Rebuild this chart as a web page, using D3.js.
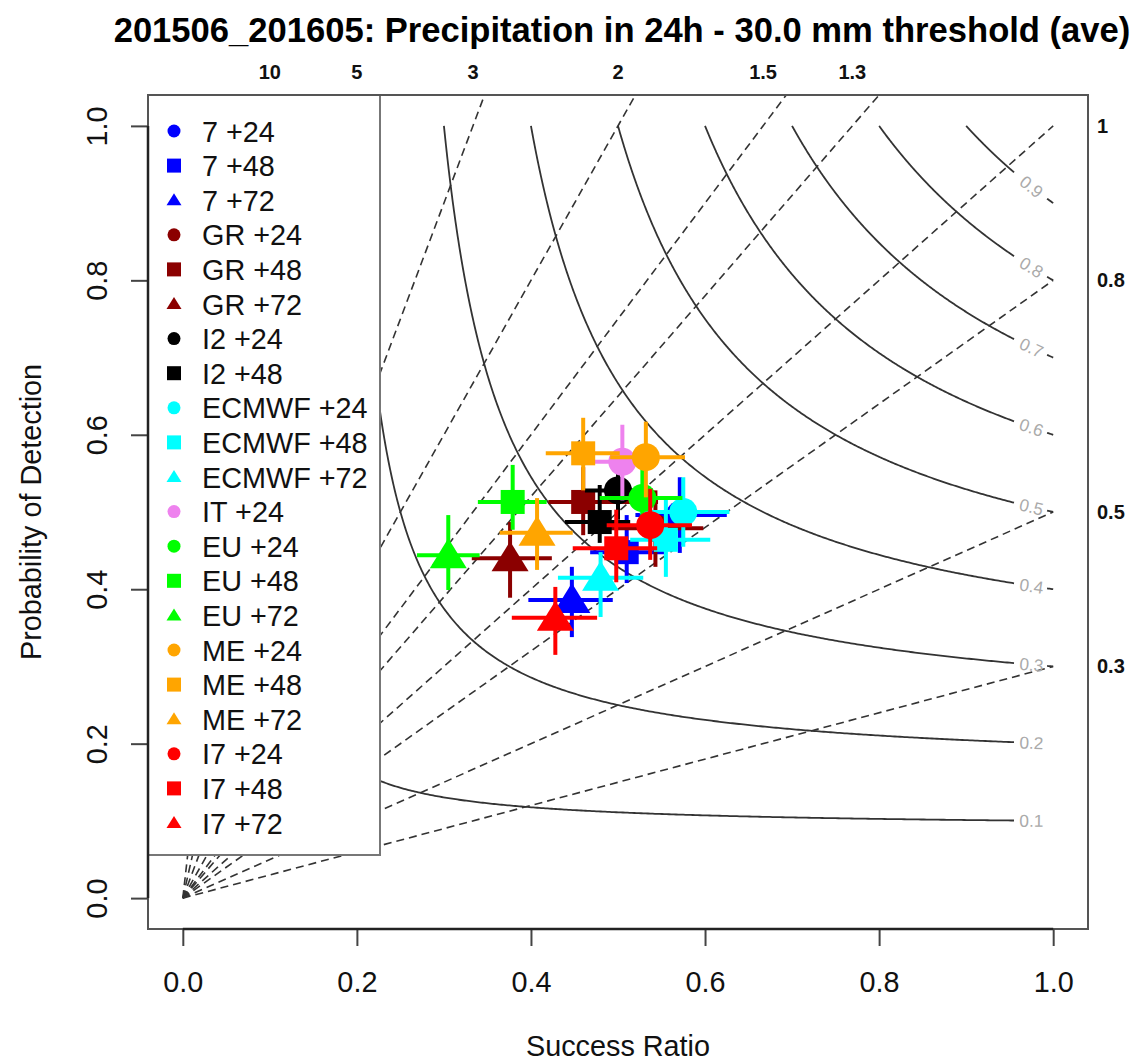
<!DOCTYPE html>
<html>
<head>
<meta charset="utf-8">
<script src="https://cdn.jsdelivr.net/npm/d3@7"></script>
<style>
  body { margin: 0; background: #fff; }
  svg text { font-family: "Liberation Sans", Arial, Helvetica, sans-serif; }
</style>
</head>
<body>
<svg id="chart" width="1140" height="1064"></svg>
<script>
// ---- data -------------------------------------------------------------
const chartTitle = "201506_201605: Precipitation in 24h - 30.0 mm threshold (ave)";

const seriesLabels = ["7 +24", "7 +48", "7 +72", "GR +24", "GR +48", "GR +72",
  "I2 +24", "I2 +48", "ECMWF +24", "ECMWF +48", "ECMWF +72", "IT +24",
  "EU +24", "EU +48", "EU +72", "ME +24", "ME +48", "ME +72",
  "I7 +24", "I7 +48", "I7 +72"];

const seriesColors = ["#0000ff", "#0000ff", "#0000ff", "#8b0000", "#8b0000", "#8b0000",
  "#000000", "#000000", "#00ffff", "#00ffff", "#00ffff", "#ee82ee",
  "#00ff00", "#00ff00", "#00ff00", "#ffa500", "#ffa500", "#ffa500",
  "#ff0000", "#ff0000", "#ff0000"];

const seriesShapes = ["circle", "square", "triangle", "circle", "square", "triangle",
  "circle", "square", "circle", "square", "triangle", "circle",
  "circle", "square", "triangle", "circle", "square", "triangle",
  "circle", "square", "triangle"];

// success ratio (x) with lower / upper bounds
const successRatio = [0.571, 0.510, 0.447, 0.543, 0.460, 0.376, 0.500, 0.479, 0.575, 0.555, 0.480,
  0.505, 0.528, 0.379, 0.305, 0.532, 0.460, 0.407, 0.537, 0.498, 0.428];
const srLower = [0.520, 0.468, 0.397, 0.491, 0.420, 0.332, 0.462, 0.439, 0.525, 0.514, 0.431,
  0.471, 0.479, 0.339, 0.269, 0.491, 0.417, 0.364, 0.487, 0.448, 0.378];
const srUpper = [0.625, 0.554, 0.494, 0.598, 0.546, 0.424, 0.540, 0.514, 0.628, 0.606, 0.529,
  0.545, 0.574, 0.418, 0.341, 0.577, 0.502, 0.448, 0.585, 0.545, 0.476];

// probability of detection (y) with lower / upper bounds
const probDetection = [0.496, 0.448, 0.386, 0.479, 0.513, 0.440, 0.528, 0.487, 0.500, 0.464, 0.415,
  0.565, 0.518, 0.513, 0.444, 0.571, 0.576, 0.473, 0.483, 0.453, 0.363];
const podLower = [0.447, 0.408, 0.338, 0.429, 0.470, 0.389, 0.490, 0.460, 0.455, 0.416, 0.364,
  0.515, 0.477, 0.477, 0.399, 0.519, 0.528, 0.425, 0.438, 0.409, 0.315];
const podUpper = [0.545, 0.496, 0.429, 0.528, 0.558, 0.487, 0.550, 0.535, 0.545, 0.516, 0.448,
  0.613, 0.557, 0.561, 0.496, 0.617, 0.622, 0.518, 0.530, 0.503, 0.403];

// critical success index contours and frequency bias lines
const csiLevels = [0.1, 0.2, 0.3, 0.4, 0.5, 0.6, 0.7, 0.8, 0.9];
const biasLevels = [10, 5, 3, 2, 1.5, 1.3, 1, 0.8, 0.5, 0.3];
const biasTopLabels = ["10", "5", "3", "2", "1.5", "1.3"];
const biasTopValues = [10, 5, 3, 2, 1.5, 1.3];
const biasRightLabels = ["1", "0.8", "0.5", "0.3"];
const biasRightValues = [1, 0.8, 0.5, 0.3];
const axisTicks = [0, 0.2, 0.4, 0.6, 0.8, 1.0];

// ---- layout -----------------------------------------------------------
const svg = d3.select("#chart");
const box = { left: 148, right: 1088, top: 95, bottom: 929 };
const x = d3.scaleLinear().domain([-0.04, 1.04]).range([box.left, box.right]);
const y = d3.scaleLinear().domain([-0.04, 1.04]).range([box.bottom, box.top]);
const baseFont = 28.8;
const ink = "#333";

svg.append("rect").attr("width", 1140).attr("height", 1064).attr("fill", "#fff");

svg.append("defs").append("clipPath").attr("id", "plotClip")
  .append("rect")
  .attr("x", box.left).attr("y", box.top)
  .attr("width", box.right - box.left).attr("height", box.bottom - box.top);

const plot = svg.append("g").attr("clip-path", "url(#plotClip)");

// CSI curves: POD = 1 / (1/csi + 1 - 1/SR)
const csiPod = (sr, c) => 1 / (1 / c + 1 - 1 / sr);
const line = d3.line().x(d => x(d[0])).y(d => y(d[1]));
const labelSr = 0.975;

csiLevels.forEach(c => {
  const n = 400;
  const pts = d3.range(n + 1).map(i => {
    const sr = c + (0.955 - c) * Math.pow(i / n, 1.6);
    return [sr, csiPod(sr, c)];
  });
  plot.append("path").attr("d", line(pts))
    .attr("fill", "none").attr("stroke", ink).attr("stroke-width", 1.8);

  if (c >= 0.3) {
    const tail = d3.range(6).map(i => {
      const sr = 0.993 + 0.007 * i / 5;
      return [sr, csiPod(sr, c)];
    });
    plot.append("path").attr("d", line(tail))
      .attr("fill", "none").attr("stroke", ink).attr("stroke-width", 1.8);
  }

  // label sits in the gap, rotated along the curve
  const p0 = [x(labelSr - 0.01), y(csiPod(labelSr - 0.01, c))];
  const p1 = [x(labelSr + 0.01), y(csiPod(labelSr + 0.01, c))];
  const ang = Math.atan2(p1[1] - p0[1], p1[0] - p0[0]) * 180 / Math.PI;
  svg.append("text")
    .attr("transform", `translate(${x(labelSr)},${y(csiPod(labelSr, c))}) rotate(${ang})`)
    .attr("text-anchor", "middle").attr("dy", "0.35em")
    .attr("font-size", 17.3).attr("fill", "#aaa")
    .text(String(c));
});

// frequency bias lines: POD = bias * SR
biasLevels.forEach(b => {
  const end = b > 1 ? [1.04 / b, 1.04] : [1, b];
  plot.append("path").attr("d", line([[0, 0], end]))
    .attr("fill", "none").attr("stroke", ink).attr("stroke-width", 1.6)
    .attr("stroke-dasharray", "8,5");
});

// bias labels on top and right
svg.selectAll("text.biasTop").data(biasTopValues).join("text")
  .attr("class", "biasTop")
  .attr("x", d => x(1 / d)).attr("y", 79)
  .attr("text-anchor", "middle").attr("font-size", 20).attr("font-weight", "bold")
  .attr("fill", "#111")
  .text((d, i) => biasTopLabels[i]);

svg.selectAll("text.biasRight").data(biasRightValues).join("text")
  .attr("class", "biasRight")
  .attr("x", 1097).attr("y", d => y(d) + 7)
  .attr("text-anchor", "start").attr("font-size", 20).attr("font-weight", "bold")
  .attr("fill", "#111")
  .text((d, i) => biasRightLabels[i]);

// ---- markers with error bars -----------------------------------------
function marker(sel, shape, size) {
  if (shape === "circle") {
    sel.append("circle").attr("r", size.r);
  } else if (shape === "square") {
    sel.append("rect").attr("x", -size.s / 2).attr("y", -size.s / 2)
      .attr("width", size.s).attr("height", size.s);
  } else {
    sel.append("path").attr("d",
      `M0,${-size.tUp} L${size.tHalf},${size.tDown} L${-size.tHalf},${size.tDown} Z`);
  }
}

const bigSize = { r: 14, s: 24, tUp: 17, tDown: 13, tHalf: 18.5 };
const points = svg.append("g");
seriesLabels.forEach((lab, i) => {
  const g = points.append("g");
  const col = seriesColors[i];
  g.append("line")
    .attr("x1", x(srLower[i])).attr("x2", x(srUpper[i]))
    .attr("y1", y(probDetection[i])).attr("y2", y(probDetection[i]))
    .attr("stroke", col).attr("stroke-width", 4);
  g.append("line")
    .attr("x1", x(successRatio[i])).attr("x2", x(successRatio[i]))
    .attr("y1", y(podLower[i])).attr("y2", y(podUpper[i]))
    .attr("stroke", col).attr("stroke-width", 4);
  const m = g.append("g")
    .attr("transform", `translate(${x(successRatio[i])},${y(probDetection[i])})`)
    .attr("fill", col);
  marker(m, seriesShapes[i], bigSize);
});

// ---- legend -----------------------------------------------------------
const legend = svg.append("g");
legend.append("rect")
  .attr("x", box.left).attr("y", box.top)
  .attr("width", 380 - box.left).attr("height", 855 - box.top)
  .attr("fill", "#fff").attr("stroke", "#777").attr("stroke-width", 2);

const smallSize = { r: 6.5, s: 14, tUp: 7, tDown: 5, tHalf: 7.5 };
const rowStep = 34.6;
seriesLabels.forEach((lab, i) => {
  const cy = 131 + i * rowStep;
  const m = legend.append("g")
    .attr("transform", `translate(174,${cy})`)
    .attr("fill", seriesColors[i]);
  marker(m, seriesShapes[i], smallSize);
  legend.append("text")
    .attr("x", 202).attr("y", cy + 10.5)
    .attr("font-size", baseFont).attr("fill", "#111")
    .text(lab);
});

// ---- frame and axes ---------------------------------------------------
svg.append("rect")
  .attr("x", box.left).attr("y", box.top)
  .attr("width", box.right - box.left).attr("height", box.bottom - box.top)
  .attr("fill", "none").attr("stroke", "#555").attr("stroke-width", 2);

const xAxis = svg.append("g")
  .attr("transform", `translate(0,${box.bottom})`)
  .call(d3.axisBottom(x).tickValues(axisTicks).tickFormat(d3.format(".1f"))
    .tickSize(17).tickPadding(0));
xAxis.select(".domain").remove();
xAxis.selectAll(".tick line").attr("stroke", "#444").attr("stroke-width", 2);
xAxis.selectAll(".tick text")
  .attr("y", 63).attr("dy", 0)
  .attr("font-size", baseFont).attr("fill", "#111")
  .style("font-family", "'Liberation Sans', Arial, sans-serif");
xAxis.append("line")
  .attr("x1", x(0)).attr("x2", x(1)).attr("y1", 0).attr("y2", 0)
  .attr("stroke", "#222").attr("stroke-width", 2.5);

const yAxis = svg.append("g")
  .attr("transform", `translate(${box.left},0)`)
  .call(d3.axisLeft(y).tickValues(axisTicks).tickFormat(d3.format(".1f"))
    .tickSize(17).tickPadding(0));
yAxis.select(".domain").remove();
yAxis.selectAll(".tick line").attr("stroke", "#444").attr("stroke-width", 2);
yAxis.selectAll(".tick text")
  .attr("x", 0).attr("dy", 0)
  .attr("transform", "translate(-41,0) rotate(-90)")
  .attr("text-anchor", "middle")
  .attr("font-size", baseFont).attr("fill", "#111")
  .style("font-family", "'Liberation Sans', Arial, sans-serif");
yAxis.append("line")
  .attr("x1", 0).attr("x2", 0).attr("y1", y(0)).attr("y2", y(1))
  .attr("stroke", "#222").attr("stroke-width", 2.5);

// axis titles
svg.append("text")
  .attr("x", (box.left + box.right) / 2).attr("y", 1056)
  .attr("text-anchor", "middle").attr("font-size", baseFont).attr("fill", "#111")
  .text("Success Ratio");
svg.append("text")
  .attr("transform", `translate(41,${(box.top + box.bottom) / 2}) rotate(-90)`)
  .attr("text-anchor", "middle").attr("font-size", baseFont).attr("fill", "#111")
  .text("Probability of Detection");

// main title
svg.append("text")
  .attr("x", (box.left + box.right) / 2 + 4).attr("y", 42)
  .attr("text-anchor", "middle").attr("font-size", 34.6).attr("font-weight", "bold")
  .attr("fill", "#000")
  .text(chartTitle);
</script>
</body>
</html>
